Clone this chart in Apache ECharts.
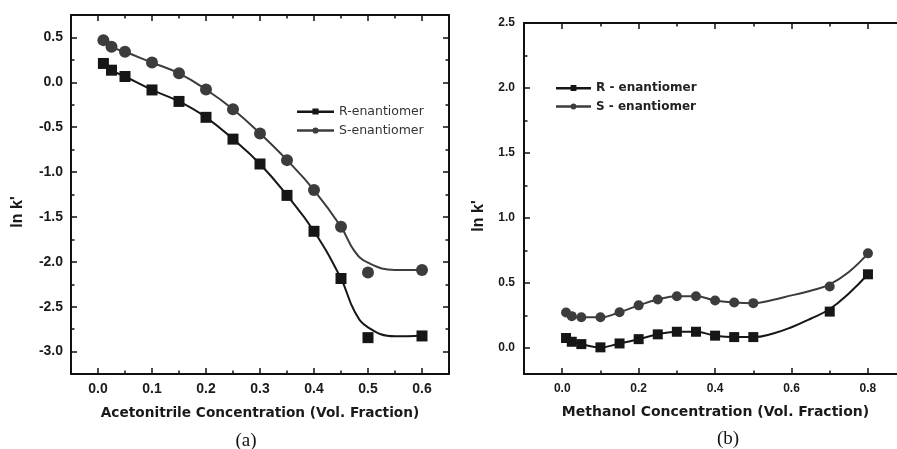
<!DOCTYPE html>
<html>
<head>
<meta charset="utf-8">
<script src="https://cdn.jsdelivr.net/npm/echarts@6/dist/echarts.min.js"></script>
<style>html,body{margin:0;padding:0;background:#fff}#c{width:897px;height:449px}</style>
</head>
<body>
<div id="c"></div>
<script>
// ---------- Panel (a): Acetonitrile ----------
const aConc = [0.01, 0.025, 0.05, 0.1, 0.15, 0.2, 0.25, 0.3, 0.35, 0.4, 0.45, 0.5, 0.6];
const aR = [0.21, 0.135, 0.065, -0.085, -0.213, -0.39, -0.633, -0.91, -1.26, -1.66, -2.186, -2.845, -2.826];
const aS = [0.47, 0.395, 0.34, 0.22, 0.10, -0.08, -0.30, -0.57, -0.867, -1.20, -1.61, -2.12, -2.09];
// fitted curves
const aFitConc = [0.01, 0.025, 0.05, 0.1, 0.15, 0.2, 0.25, 0.3, 0.35, 0.4, 0.45, 0.475, 0.5, 0.55, 0.6];
const aRFit = [0.21, 0.135, 0.065, -0.085, -0.213, -0.39, -0.633, -0.91, -1.26, -1.66, -2.186, -2.55, -2.73, -2.83, -2.82];
const aSFit = [0.47, 0.395, 0.34, 0.22, 0.10, -0.08, -0.30, -0.57, -0.867, -1.20, -1.61, -1.88, -2.01, -2.09, -2.09];
const aXMajor = [0, 0.1, 0.2, 0.3, 0.4, 0.5, 0.6];
const aXMinor = [0.05, 0.15, 0.25, 0.35, 0.45, 0.55];
const aYMajor = [-3, -2.5, -2, -1.5, -1, -0.5, 0, 0.5];
const aYMinor = [-2.75, -2.25, -1.75, -1.25, -0.75, -0.25, 0.25];

// ---------- Panel (b): Methanol ----------
const bConc = [0.01, 0.025, 0.05, 0.1, 0.15, 0.2, 0.25, 0.3, 0.35, 0.4, 0.45, 0.5, 0.7, 0.8];
const bR = [0.077, 0.048, 0.03, 0.005, 0.035, 0.068, 0.105, 0.125, 0.125, 0.095, 0.084, 0.084, 0.28, 0.567];
const bS = [0.273, 0.245, 0.236, 0.236, 0.275, 0.328, 0.373, 0.398, 0.398, 0.365, 0.35, 0.345, 0.473, 0.728];
const bFitConc = [0.01, 0.025, 0.05, 0.1, 0.15, 0.2, 0.25, 0.3, 0.35, 0.4, 0.45, 0.5, 0.55, 0.6, 0.65, 0.7, 0.75, 0.8];
const bRFit = [0.077, 0.048, 0.03, 0.005, 0.035, 0.068, 0.105, 0.125, 0.125, 0.095, 0.084, 0.084, 0.11, 0.16, 0.225, 0.30, 0.42, 0.567];
const bSFit = [0.273, 0.245, 0.236, 0.236, 0.275, 0.328, 0.373, 0.398, 0.398, 0.365, 0.35, 0.345, 0.37, 0.405, 0.44, 0.49, 0.585, 0.728];
const bXMajor = [0, 0.2, 0.4, 0.6, 0.8];
const bXMinor = [0.1, 0.3, 0.5, 0.7];
const bYMajor = [0, 0.5, 1, 1.5, 2, 2.5];
const bYMinor = [0.25, 0.75, 1.25, 1.75, 2.25];

const FONT = "'Liberation Sans', Arial, sans-serif";
const WIDE = "'DejaVu Sans', Verdana, sans-serif";
const INK = '#111';
const R_COL = '#161616';
const S_COL = '#3c3c3c';

const zip = (xs, ys) => xs.map((x, i) => [x, ys[i]]);
const fmt1 = v => Number(v).toFixed(1);

function axis(grid, pos, min, max, ticks, len, opts) {
  opts = opts || {};
  const a = {
    type: 'value', gridIndex: grid, position: pos, min: min, max: max,
    splitLine: { show: false },
    axisLine: { show: !!opts.line, onZero: false, lineStyle: { color: INK, width: 2 } },
    axisTick: { show: !opts.hidden, inside: true, length: len, customValues: ticks, lineStyle: { color: INK, width: 1.5 } },
    axisLabel: { show: false },
    z: 5
  };
  if (opts.labels) {
    a.axisLabel = {
      show: true, customValues: ticks, formatter: fmt1, margin: opts.margin,
      color: '#1a1a1a', fontFamily: FONT, fontWeight: 'bold', fontSize: opts.fs
    };
  }
  if (opts.name) {
    a.name = opts.name; a.nameLocation = 'middle'; a.nameGap = opts.nameGap;
    a.nameTextStyle = { color: '#1a1a1a', fontFamily: WIDE, fontWeight: 'bold', fontSize: opts.nameFs || 14, padding: opts.namePad || 0 };
  }
  return a;
}

const B_MAX = 0.876; // right edge of panel (b) falls at the image edge
const xAxes = [
  axis(0, 'bottom', -0.05, 0.65, aXMajor, 6, { line: true, labels: true, margin: 8, fs: 14, name: 'Acetonitrile Concentration (Vol. Fraction)', nameGap: 32, nameFs: 13.7 }),
  axis(0, 'bottom', -0.05, 0.65, aXMinor, 3.5),
  axis(0, 'top', -0.05, 0.65, aXMajor, 6, { line: true }),
  axis(0, 'top', -0.05, 0.65, aXMinor, 3.5),
  axis(1, 'bottom', -0.1, B_MAX, bXMajor, 6, { line: true, labels: true, margin: 9, fs: 12, name: 'Methanol Concentration (Vol. Fraction)', nameGap: 31, namePad: [0, 0, 0, 10] }),
  axis(1, 'bottom', -0.1, B_MAX, bXMinor, 3.5),
  axis(1, 'top', -0.1, B_MAX, bXMajor, 6, { line: true }),
  axis(1, 'top', -0.1, B_MAX, bXMinor, 3.5)
];
const yAxes = [
  axis(0, 'left', -3.25, 0.75, aYMajor, 6, { line: true, labels: true, margin: 8, fs: 14 }),
  axis(0, 'left', -3.25, 0.75, aYMinor, 3.5),
  axis(0, 'right', -3.25, 0.75, aYMajor, 6, { line: true }),
  axis(0, 'right', -3.25, 0.75, aYMinor, 3.5),
  axis(1, 'left', -0.2, 2.5, bYMajor, 6, { line: true, labels: true, margin: 9, fs: 12 }),
  axis(1, 'left', -0.2, 2.5, bYMinor, 3.5),
  axis(1, 'right', -0.2, 2.5, bYMajor, 6, { hidden: true }),
  axis(1, 'right', -0.2, 2.5, bYMinor, 3.5, { hidden: true })
];

const SQ_ICON = 'path://M0,3H15V1H21V3H36V5.5H21V7H15V5.5H0Z';
const CI_ICON = 'path://M0,3H36V5.5H0Z M21,4.25A3,3 0 1 1 15,4.25A3,3 0 1 1 21,4.25Z';

function fit(name, xi, yi, data, color) {
  return { name: name, type: 'line', xAxisIndex: xi, yAxisIndex: yi, data: data,
    smooth: 0.45, symbol: 'none', silent: true, z: 2,
    lineStyle: { color: color, width: 2 }, itemStyle: { color: color } };
}
function pts(name, xi, yi, data, symbol, size, color) {
  return { name: name, type: 'scatter', xAxisIndex: xi, yAxisIndex: yi, data: data,
    symbol: symbol, symbolSize: size, z: 4, itemStyle: { color: color, opacity: 1 } };
}

const option = {
  animation: false,
  backgroundColor: '#fff',
  grid: [
    { left: 71, top: 15, width: 378, height: 359 },
    { left: 524, top: 23, right: 0, height: 351 }
  ],
  xAxis: xAxes,
  yAxis: yAxes,
  legend: [
    { left: 297, top: 105, orient: 'vertical', padding: 0, itemGap: 6, itemWidth: 37, itemHeight: 8,
      selectedMode: false,
      textStyle: { fontFamily: WIDE, fontSize: 12.5, color: '#333' },
      data: [{ name: 'R-enantiomer', icon: SQ_ICON }, { name: 'S-enantiomer', icon: CI_ICON }] },
    { left: 556, top: 82, orient: 'vertical', padding: 0, itemGap: 6.5, itemWidth: 35, itemHeight: 8,
      selectedMode: false,
      textStyle: { fontFamily: WIDE, fontSize: 12, fontWeight: 'bold', color: '#222' },
      data: [{ name: 'R - enantiomer', icon: SQ_ICON }, { name: 'S - enantiomer', icon: CI_ICON }] }
  ],
  graphic: [
    { type: 'text', x: 18, y: 212, rotation: Math.PI / 2,
      style: { text: "ln k'", fontFamily: FONT, fontWeight: 'bold', fontSize: 16, fill: '#1a1a1a', align: 'center', verticalAlign: 'middle' } },
    { type: 'text', x: 479, y: 216, rotation: Math.PI / 2,
      style: { text: "ln k'", fontFamily: FONT, fontWeight: 'bold', fontSize: 16, fill: '#1a1a1a', align: 'center', verticalAlign: 'middle' } },
    { type: 'text', x: 246, y: 441,
      style: { text: '(a)', fontFamily: "'Liberation Serif', 'Times New Roman', serif", fontSize: 19, fill: '#111', align: 'center', verticalAlign: 'middle' } },
    { type: 'text', x: 728, y: 439,
      style: { text: '(b)', fontFamily: "'Liberation Serif', 'Times New Roman', serif", fontSize: 19, fill: '#111', align: 'center', verticalAlign: 'middle' } }
  ],
  series: [
    fit('R fit (a)', 0, 0, zip(aFitConc, aRFit), R_COL),
    fit('S fit (a)', 0, 0, zip(aFitConc, aSFit), S_COL),
    pts('R-enantiomer', 0, 0, zip(aConc, aR), 'rect', 11, R_COL),
    pts('S-enantiomer', 0, 0, zip(aConc, aS), 'circle', 12, S_COL),
    fit('R fit (b)', 4, 4, zip(bFitConc, bRFit), R_COL),
    fit('S fit (b)', 4, 4, zip(bFitConc, bSFit), S_COL),
    pts('R - enantiomer', 4, 4, zip(bConc, bR), 'rect', 10, R_COL),
    pts('S - enantiomer', 4, 4, zip(bConc, bS), 'circle', 10, S_COL)
  ]
};
const chart = echarts.init(document.getElementById('c'), null, { renderer: 'canvas' });
chart.setOption(option);
</script>
</body>
</html>
